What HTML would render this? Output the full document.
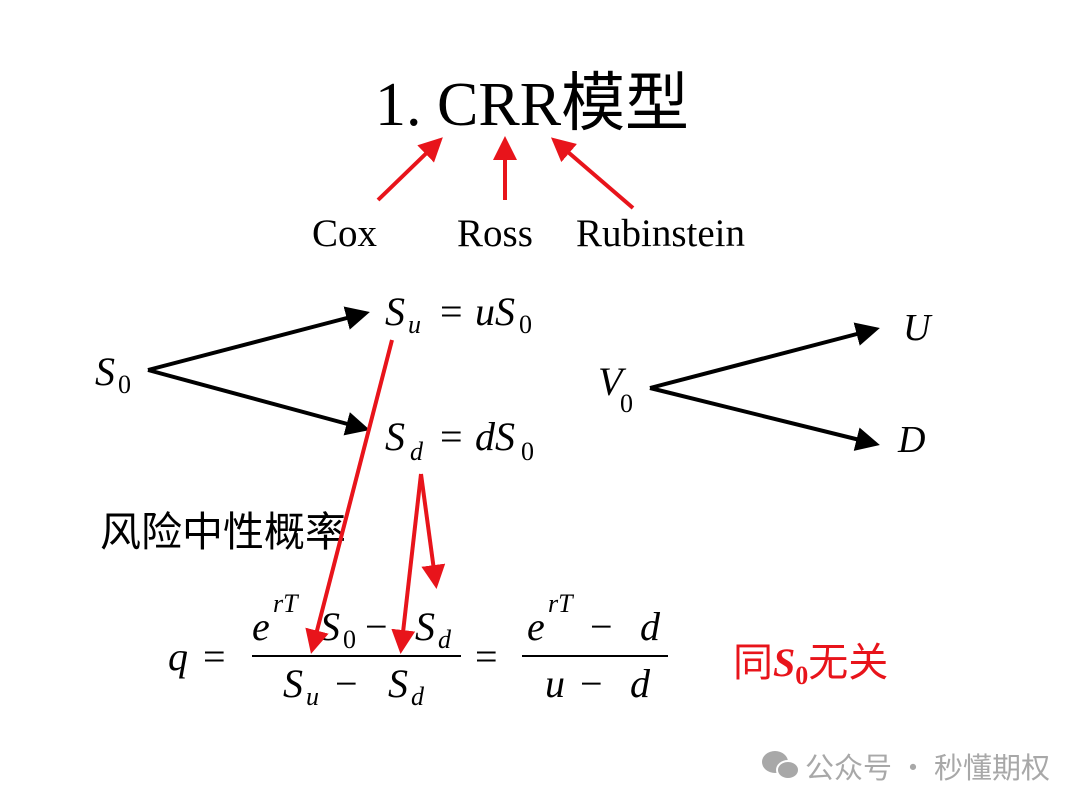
<!DOCTYPE html>
<html><head><meta charset="utf-8"><style>
html,body{margin:0;padding:0;background:#fff;}
svg{display:block;}
</style></head><body>
<svg width="1080" height="810" viewBox="0 0 1080 810" xmlns="http://www.w3.org/2000/svg">
<defs>
<marker id="rh" markerWidth="6" markerHeight="6" refX="5" refY="3" orient="auto" markerUnits="strokeWidth"><path d="M0,0 L6,3 L0,6 z" fill="#e8141b"/></marker>
<marker id="bh" markerWidth="6" markerHeight="6" refX="5" refY="3" orient="auto" markerUnits="strokeWidth"><path d="M0,0 L6,3 L0,6 z" fill="#000"/></marker>
</defs>
<g font-family="'Liberation Serif','Noto Serif CJK SC',serif" fill="#000">
<text x="375" y="125" font-size="62">1. CRR<tspan font-family="'Noto Sans CJK SC',sans-serif" font-size="64">模型</tspan></text>
<text x="312" y="246" font-size="39">Cox</text>
<text x="457" y="246" font-size="39">Ross</text>
<text x="576" y="246" font-size="39">Rubinstein</text>
<text x="95" y="385" font-size="40" font-style="italic">S</text><text x="118" y="393" font-size="26">0</text>
<text x="385" y="325" font-size="40" font-style="italic">S</text><text x="408" y="333" font-size="26" font-style="italic">u</text><text x="440" y="325" font-size="40">=</text><text x="475" y="325" font-size="40" font-style="italic">uS</text><text x="519" y="333" font-size="26">0</text>
<text x="385" y="450" font-size="40" font-style="italic">S</text><text x="410" y="460" font-size="26" font-style="italic">d</text><text x="440" y="450" font-size="40">=</text><text x="475" y="450" font-size="40" font-style="italic">dS</text><text x="521" y="460" font-size="26">0</text>
<text x="598" y="395" font-size="40" font-style="italic">V</text><text x="620" y="412" font-size="26">0</text>
<text x="903" y="340" font-size="38" font-style="italic">U</text>
<text x="898" y="452" font-size="38" font-style="italic">D</text>
<text x="100" y="546" font-size="41" font-family="'Noto Sans CJK SC',sans-serif">风险中性概率</text>
<text x="168" y="670" font-size="40" font-style="italic">q</text>
<text x="203" y="670" font-size="40">=</text>
<line x1="252" y1="656" x2="461" y2="656" stroke="#000" stroke-width="2"/>
<text x="252" y="640" font-size="40" font-style="italic">e</text><text x="273" y="612" font-size="26" font-style="italic">rT</text><text x="320" y="640" font-size="40" font-style="italic">S</text><text x="343" y="648" font-size="26">0</text><text x="365" y="640" font-size="40">−</text><text x="415" y="640" font-size="40" font-style="italic">S</text><text x="438" y="648" font-size="26" font-style="italic">d</text>
<text x="283" y="697" font-size="40" font-style="italic">S</text><text x="306" y="705" font-size="26" font-style="italic">u</text><text x="335" y="697" font-size="40">−</text><text x="388" y="697" font-size="40" font-style="italic">S</text><text x="411" y="705" font-size="26" font-style="italic">d</text>
<text x="475" y="670" font-size="40">=</text>
<line x1="522" y1="656" x2="668" y2="656" stroke="#000" stroke-width="2"/>
<text x="527" y="640" font-size="40" font-style="italic">e</text><text x="548" y="612" font-size="26" font-style="italic">rT</text><text x="590" y="640" font-size="40">−</text><text x="640" y="640" font-size="40" font-style="italic">d</text>
<text x="545" y="697" font-size="40" font-style="italic">u</text><text x="580" y="697" font-size="40">−</text><text x="630" y="697" font-size="40" font-style="italic">d</text>
<text x="733" y="676" font-size="40" font-weight="bold" fill="#e8141b"><tspan font-family="'Noto Sans CJK SC',sans-serif" font-weight="normal">同</tspan><tspan font-style="italic">S</tspan><tspan font-size="26" dy="8">0</tspan><tspan dy="-8" font-family="'Noto Sans CJK SC',sans-serif" font-weight="normal">无关</tspan></text>
</g>
<g stroke="#000" stroke-width="4" fill="none">
<line x1="148" y1="370" x2="366" y2="313" marker-end="url(#bh)"/>
<line x1="148" y1="370" x2="366" y2="429" marker-end="url(#bh)"/>
<line x1="650" y1="388" x2="876" y2="329" marker-end="url(#bh)"/>
<line x1="650" y1="388" x2="876" y2="444" marker-end="url(#bh)"/>
</g>
<g stroke="#e8141b" stroke-width="4" fill="none">
<line x1="378" y1="200" x2="440" y2="140" marker-end="url(#rh)"/>
<line x1="505" y1="200" x2="505" y2="140" marker-end="url(#rh)"/>
<line x1="633" y1="208" x2="554" y2="140" marker-end="url(#rh)"/>
<line x1="392" y1="340" x2="312" y2="650" marker-end="url(#rh)"/>
<line x1="421" y1="474" x2="401" y2="650" marker-end="url(#rh)"/>
<line x1="421" y1="474" x2="436" y2="585" marker-end="url(#rh)"/>
</g>
<g fill="#a8a8a8">
<ellipse cx="775" cy="762" rx="13" ry="11"/>
<ellipse cx="788" cy="770" rx="11" ry="9" stroke="#fff" stroke-width="2"/>
<text x="805" y="778" font-size="29" font-family="'Noto Sans CJK SC',sans-serif">公众号 · 秒懂期权</text>
</g>
</svg>
</body></html>
